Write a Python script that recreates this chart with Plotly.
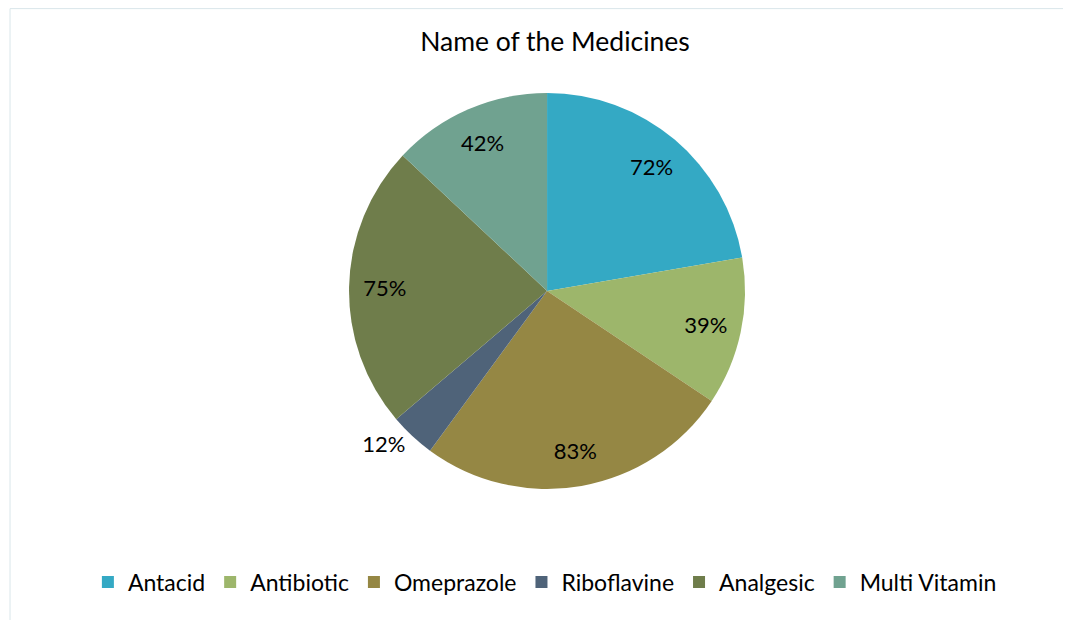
import plotly.graph_objects as go

categories = ["Antacid", "Antibiotic", "Omeprazole", "Riboflavine", "Analgesic", "Multi Vitamin"]
values = [72, 39, 83, 12, 75, 42]
colors = ["#34A9C4", "#9DB66B", "#958744", "#4F6379", "#6F7D4B", "#70A290"]
label_pos = ["inside", "inside", "inside", "outside", "inside", "inside"]

FONT = "Lato, Open Sans, sans-serif"
dom = dict(x=[0.2033, 0.8033], y=[0.2242, 0.8629])

# base pie (colours + legend)
fig = go.Figure(go.Pie(
    labels=categories,
    values=values,
    textinfo="none",
    sort=False,
    direction="clockwise",
    rotation=0,
    marker=dict(colors=colors, line=dict(width=0)),
    domain=dom,
    showlegend=True,
    hoverinfo="label+value",
))

# transparent ring overlay that carries the data labels near the outer edge
fig.add_trace(go.Pie(
    labels=categories,
    values=values,
    text=[f"{v}%" for v in values],
    textinfo="text",
    textposition=label_pos,
    insidetextorientation="horizontal",
    hole=0.64,
    sort=False,
    direction="clockwise",
    rotation=0,
    marker=dict(colors=["rgba(0,0,0,0)"] * len(values), line=dict(width=0)),
    textfont=dict(family=FONT, size=22, color="#000000"),
    domain=dom,
    showlegend=False,
    hoverinfo="skip",
))

fig.update_layout(
    width=1071, height=620,
    margin=dict(l=0, r=0, t=0, b=0),
    paper_bgcolor="white",
    title=dict(text="Name of the Medicines", x=0.5107, xanchor="center", y=0.945, yanchor="middle",
               font=dict(family=FONT, size=26.5, color="#000000")),
    legend=dict(orientation="h", x=0.5013, xanchor="center", y=0.074, yanchor="middle",
                font=dict(family=FONT, size=23, color="#000000"),
                itemwidth=30, traceorder="normal"),
    shapes=[dict(type="rect", xref="paper", yref="paper", x0=0.0019, x1=1.01, y0=-0.01, y1=0.999,
                 line=dict(color="#D9E6EA", width=1), fillcolor="rgba(0,0,0,0)")],
)

fig.write_html("out.html")
